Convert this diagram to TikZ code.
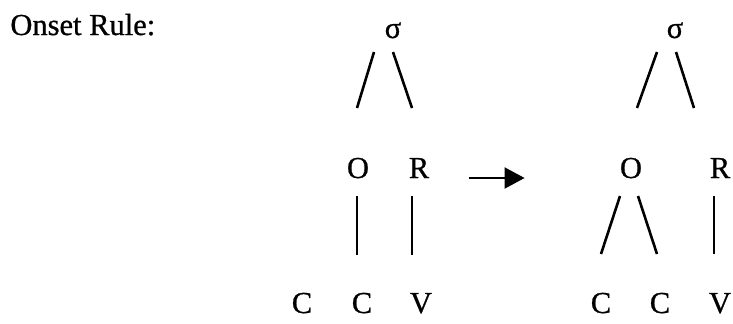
\documentclass[tikz,border=0pt]{standalone}
\usepackage{fontspec}
\setmainfont{Liberation Serif}[FakeBold=0.8]
\usetikzlibrary{calc,arrows.meta}

\begin{document}
\begin{tikzpicture}[
    x=0.5pt, y=-0.5pt,
    tree node/.style={inner sep=0pt, anchor=base, font=\fontsize{15.25}{18}\selectfont},
    title node/.style={inner sep=0pt, anchor=base west, font=\fontsize{15.25}{18}\selectfont},
    branch/.style={line width=1.3pt},
    rule arrow/.style={-{Triangle[length=10pt, width=10.5pt]}, line width=1pt}
]
  \useasboundingbox (0,0) rectangle (733,323);

  \node[title node] (title) at (10,35) {Onset Rule:};

  % left tree
  \node[tree node] (sL) at (393,38) {σ};
  \node[tree node] (oL) at (358,178) {O};
  \node[tree node] (rL) at (419,178) {R};
  \node[tree node] (c1L) at (302,313) {C};
  \node[tree node] (c2L) at (362,313) {C};
  \node[tree node] (vL) at (421,313) {V};

  \draw[branch] ($(sL.base)+(-19,14)$) -- ($(oL.base)+(-1,-70)$);
  \draw[branch] ($(sL.base)+(0,14)$) -- ($(rL.base)+(-7,-70)$);
  \draw[branch] ($(oL.base)+(-1,18)$) -- ($(c2L.base)+(-5,-58)$);
  \draw[branch] ($(rL.base)+(-7,18)$) -- ($(vL.base)+(-9,-58)$);

  % right tree
  \node[tree node] (sR) at (675,38) {σ};
  \node[tree node] (oR) at (631,178) {O};
  \node[tree node] (rR) at (720,178) {R};
  \node[tree node] (c1R) at (601,313) {C};
  \node[tree node] (c2R) at (660,313) {C};
  \node[tree node] (vR) at (720,313) {V};

  \draw[branch] ($(sR.base)+(-18,14)$) -- ($(oR.base)+(6,-70)$);
  \draw[branch] ($(sR.base)+(1,14)$) -- ($(rR.base)+(-26,-70)$);
  \draw[branch] ($(oR.base)+(-11,18)$) -- ($(c1R.base)+(0,-59)$);
  \draw[branch] ($(oR.base)+(7,18)$) -- ($(c2R.base)+(-3,-59)$);
  \draw[branch] ($(rR.base)+(-6,18)$) -- ($(vR.base)+(-6,-59)$);

  \draw[rule arrow, shorten <=19.5pt, shorten >=47.5pt] (rL.base east) -- (oR.base west);
\end{tikzpicture}
\end{document}
